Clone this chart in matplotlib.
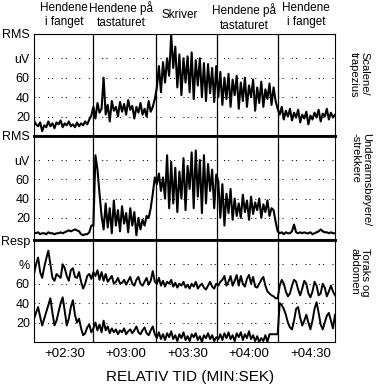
"""Tre-panels EMG/respirasjonsfigur (matplotlib)."""
import numpy as np
import matplotlib
matplotlib.use("Agg")
import matplotlib.pyplot as plt
import matplotlib.font_manager as fm

plt.rcParams["font.family"] = ["Liberation Sans", "DejaVu Sans"]
plt.rcParams["font.size"] = 9

# smal skrift for fase- og sidetekster hvis den finnes
_available = {f.name for f in fm.fontManager.ttflist}
if "Liberation Sans Narrow" in _available:
    LABEL_FONT, PHASE_SIZE, SIDE_SIZE = ["Liberation Sans Narrow", "Liberation Sans"], 9.5, 9.5
else:
    LABEL_FONT, PHASE_SIZE, SIDE_SIZE = ["Liberation Sans", "DejaVu Sans"], 8.5, 8

W, H = 380, 390

# tid i sekunder (1 s oppløsning), fra +02:15 til +04:42
seconds = np.arange(135, 283)

phase_edges = [164, 194.5, 224.5, 254]
phase_labels = ["Hendene\ni fanget", "Hendene på\ntastaturet", "Skriver",
                "Hendene på\ntastaturet", "Hendene\ni fanget"]
phase_label_pos = [(64, 15), (121, 15), (180, 15), (244, 17.5), (306, 15)]

tick_seconds = [150, 180, 210, 240, 270]
tick_labels = ["+02:30", "+03:00", "+03:30", "+04:00", "+04:30"]

# Scalene/trapezius RMS (uV)
scalene = [
    16, 12, 10, 14, 5, 11, 9, 15, 10, 13, 8, 14, 12, 16, 9, 13, 11, 15, 10, 12,
    9, 14, 10, 13, 11, 15, 12, 17, 21,
    30, 18, 34, 24, 28, 60, 22, 32, 15, 36, 26, 30, 20, 35, 25, 33, 22, 37, 27, 31,
    18, 30, 24, 34, 22, 28, 20, 36, 25, 30, 38,
    50, 72, 45, 76, 55, 80, 62, 104, 70, 92, 50, 84, 42, 80, 55, 82, 45, 86, 38, 78,
    52, 80, 40, 75, 36, 74, 44, 70, 35, 72,
    40, 66, 32, 60, 38, 64, 30, 58, 42, 62, 28, 55, 36, 60, 30, 52, 40, 58, 26, 50,
    34, 56, 30, 48, 38, 54, 32, 50, 36, 28,
    22, 30, 17, 26, 20, 28, 16, 24, 19, 27, 14, 22, 18, 25, 12, 21, 17, 24, 19, 27,
    15, 23, 20, 28, 17, 24, 19, 22,
]

# Underarmsbøyere/-strekkere RMS (uV)
forearm = [
    5, 4, 5, 3, 4, 4, 3, 5, 4, 4, 3, 4, 4, 5, 4, 5, 6, 7, 6, 7,
    8, 7, 6, 3, 2, 3, 3, 5, 12,
    12, 85, 70, 45, 22, 8, 35, 10, 30, 4, 38, 12, 28, 6, 32, 14, 25, 5, 30, 12,
    26, 2, 20, 8, 18, 12, 22, 20, 30, 45, 62,
    55, 66, 48, 62, 40, 85, 30, 78, 35, 72, 26, 68, 40, 82, 28, 74, 50, 88, 30, 90,
    42, 80, 25, 85, 35, 76, 48, 70, 30, 65,
    58, 20, 55, 12, 45, 25, 50, 18, 40, 22, 35, 20, 44, 26, 38, 18, 42, 24, 36, 28,
    40, 20, 34, 26, 38, 22, 30, 28, 16, 6,
    4, 5, 3, 5, 4, 4, 6, 13, 5, 4, 5, 4, 5, 4, 4, 5, 3, 4, 5, 6,
    8, 6, 5, 5, 4, 5, 4, 4,
]

# respirasjon (%), toraks (øvre kurve) og abdomen (nedre kurve)
thorax = [
    70, 80, 87, 72, 66, 77, 86, 94, 80, 66, 63, 70, 68, 66, 80, 76, 68, 63, 74, 76,
    67, 66, 72, 62, 55, 60, 68, 70, 65,
    72, 68, 74, 64, 72, 63, 70, 62, 65, 68, 60, 62, 66, 60, 61, 64, 59, 63, 67, 60,
    58, 64, 67, 60, 58, 62, 66, 59, 63, 73, 62,
    60, 66, 58, 63, 57, 62, 60, 64, 57, 61, 56, 60, 58, 62, 56, 59, 55, 60, 57, 62,
    55, 58, 60, 56, 54, 58, 62, 57, 55, 60,
    58, 62, 64, 68, 58, 62, 68, 58, 63, 69, 58, 68, 60, 57, 65, 69, 60, 67, 57, 56,
    60, 64, 67, 58, 52, 50, 48, 47, 45, 45,
    58, 64, 60, 52, 47, 50, 58, 64, 62, 54, 48, 55, 63, 60, 50, 46, 52, 62, 58, 48,
    50, 60, 56, 47, 52, 58, 52, 48,
]
abdomen = [
    24, 30, 36, 26, 17, 24, 31, 38, 45, 30, 17, 22, 31, 40, 46, 32, 17, 24, 36, 43,
    28, 20, 24, 14, 7, 9, 15, 18, 10,
    14, 20, 12, 18, 10, 22, 12, 16, 9, 14, 10, 13, 8, 12, 10, 14, 8, 11, 13, 9,
    12, 16, 10, 8, 12, 15, 9, 7, 12, 16, 8,
    4, 10, 3, 8, 2, 9, 5, 11, 3, 7, 1, 8, 4, 10, 2, 6, 1, 8, 5, 9,
    2, 6, 0, 7, 4, 9, 3, 7, 1, 5,
    3, 8, 2, 9, 4, 10, 3, 7, 1, 9, 5, 10, 2, 8, 4, 11, 3, 7, 1, 6,
    0, 4, 1, 7, 0, 8, 8, 8, 8, 8,
    40, 38, 34, 28, 20, 15, 13, 22, 34, 36, 25, 17, 22, 28, 20, 13, 22, 34, 41, 30,
    18, 13, 20, 27, 30, 22, 14, 28,
]

grid_levels = [20, 40, 60, 80]
tick_levels = [20, 40, 60, 80, 105]
rms_ticklabels = ["20", "40", "60", "uV", "RMS"]
resp_ticklabels = ["20", "40", "60", "%", "Resp"]
side_labels = ["Scalene/\ntrapezius", "Underarmsbøyere/\n-strekkere", "Toraks og\nabdomen"]
side_label_pos = [(359, 52), (361, 133), (360, 248)]


def fx(px):
    return px / W


def fy(py):
    return 1 - py / H


def make_panel(fig, top, bottom, ylim, ticklabels):
    ax = fig.add_axes([fx(34), fy(bottom), fx(335) - fx(34), fy(top) - fy(bottom)])
    ax.set_xlim(seconds[0], seconds[-1])
    ax.set_ylim(*ylim)
    for lvl in grid_levels:
        ax.axhline(lvl, color="black", linewidth=0.75, dashes=(1, 3, 1, 8), zorder=1)
    for edge in phase_edges:
        ax.axvline(edge, color="black", linewidth=0.9, zorder=2)
    ax.set_yticks(tick_levels)
    ax.set_yticklabels(ticklabels)
    ax.tick_params(axis="y", length=0, pad=3, labelsize=9)
    ax.set_xticks([])
    for s in ax.spines.values():
        s.set_linewidth(0.8)
    return ax


fig = plt.figure(figsize=(W / 100, H / 100), dpi=100)

ax1 = make_panel(fig, 34, 136, (0, 105), rms_ticklabels)
ax1.plot(seconds, scalene, color="black", linewidth=1.5, zorder=3)
ax1.spines["bottom"].set_linewidth(2)

ax2 = make_panel(fig, 136, 240, (-3, 105), rms_ticklabels)
ax2.plot(seconds, forearm, color="black", linewidth=1.5, zorder=3)
ax2.spines["top"].set_linewidth(2)
ax2.spines["bottom"].set_linewidth(2)

ax3 = make_panel(fig, 240, 342, (0, 105), resp_ticklabels)
ax3.plot(seconds, thorax, color="black", linewidth=1.4, zorder=3)
ax3.plot(seconds, abdomen, color="black", linewidth=1.4, zorder=3)
ax3.spines["top"].set_linewidth(2)
ax3.set_xticks(tick_seconds)
ax3.set_xticklabels(tick_labels)
ax3.tick_params(axis="x", length=0, pad=4, labelsize=9.5)

for label, (px, py) in zip(phase_labels, phase_label_pos):
    fig.text(fx(px), fy(py), label, ha="center", va="center",
             multialignment="center", linespacing=1.3,
             family=LABEL_FONT, fontsize=PHASE_SIZE)

for label, (px, py) in zip(side_labels, side_label_pos):
    fig.text(fx(px), fy(py), label, rotation=270, ha="center", va="top",
             multialignment="left", linespacing=1.1,
             family=LABEL_FONT, fontsize=SIDE_SIZE)

fig.text(fx(190), fy(377), "RELATIV TID (MIN:SEK)", ha="center", va="center",
         fontsize=11)

fig.savefig("out.png", dpi=100)
plt.close(fig)
